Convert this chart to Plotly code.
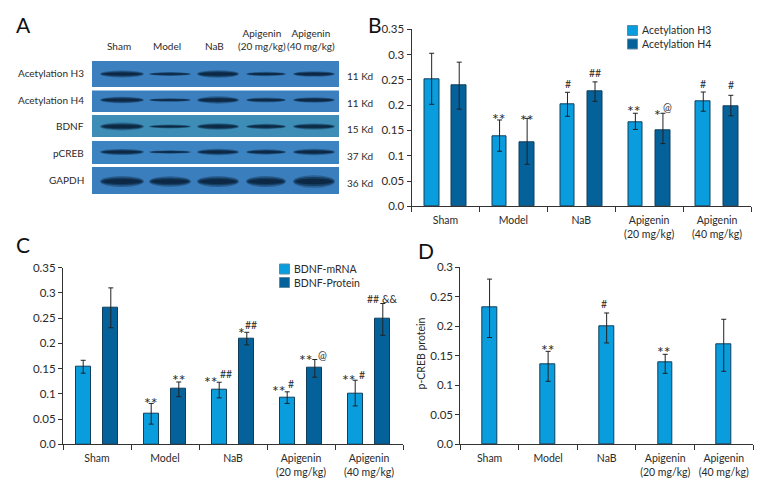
import plotly.graph_objects as go

# ---------- data ----------
GROUPS = ["Sham", "Model", "NaB", "Apigenin<br>(20 mg/kg)", "Apigenin<br>(40 mg/kg)"]
Y_TICKS = [0, 0.05, 0.1, 0.15, 0.2, 0.25, 0.3, 0.35]
Y_TEXT = ["0.0", "0.05", "0.1", "0.15", "0.2", "0.25", "0.3", "0.35"]

H3 = [0.252, 0.138, 0.201, 0.166, 0.207]
H3_UP = [0.3026, 0.1707, 0.2254, 0.184, 0.226]
H3_LO = [0.2017, 0.1088, 0.178, 0.152, 0.188]
H4 = [0.240, 0.126, 0.227, 0.151, 0.198]
H4_UP = [0.285, 0.174, 0.246, 0.184, 0.2195]
H4_LO = [0.192, 0.083, 0.2076, 0.124, 0.179]

MRNA = [0.154, 0.060, 0.109, 0.093, 0.100]
MRNA_UP = [0.1665, 0.081, 0.123, 0.104, 0.127]
MRNA_LO = [0.141, 0.040, 0.092, 0.081, 0.076]
PROT = [0.270, 0.110, 0.209, 0.152, 0.248]
PROT_UP = [0.310, 0.1235, 0.222, 0.168, 0.279]
PROT_LO = [0.231, 0.0945, 0.197, 0.133, 0.216]

CREB = [0.232, 0.1356, 0.1994, 0.1384, 0.1695]
CREB_UP = [0.280, 0.1576, 0.2226, 0.1525, 0.2119]
CREB_LO = [0.181, 0.1068, 0.1718, 0.1203, 0.1237]

# significance marks: (category position, value, text)
MARKS_B = [(0.79, 0.179, "**"), (1.20, 0.177, "**"),
           (1.80, 0.241, "#"), (2.20, 0.264, "##"),
           (2.78, 0.195, "**"), (3.13, 0.188, "*"), (3.27, 0.197, "@"),
           (3.80, 0.242, "#"), (4.20, 0.240, "#")]
MARKS_C = [(0.79, 0.088, "**"), (1.21, 0.135, "**"),
           (1.68, 0.130, "**"), (1.90, 0.139, "##"),
           (2.12, 0.228, "*"), (2.26, 0.236, "##"),
           (2.68, 0.113, "**"), (2.86, 0.120, "#"),
           (3.08, 0.175, "**"), (3.31, 0.177, "@"),
           (3.71, 0.134, "**"), (3.90, 0.137, "#"),
           (4.06, 0.288, "##"), (4.30, 0.288, "&&")]
MARKS_D = [(0.99, 0.166, "**"), (1.95, 0.237, "#"), (2.98, 0.162, "**")]

BLOT_ROWS = ["Acetylation H3", "Acetylation H4", "BDNF", "pCREB", "GAPDH"]
BLOT_KD = ["11 Kd", "11 Kd", "15 Kd", "37 Kd", "36 Kd"]
BLOT_LANES = ["Sham", "Model", "NaB", "Apigenin<br>(20 mg/kg)", "Apigenin<br>(40 mg/kg)"]
# band strength read by eye per row / lane (relative thickness)
BAND_STRENGTH = [[0.62, 0.35, 0.68, 0.40, 0.52],
                 [0.60, 0.32, 0.66, 0.45, 0.50],
                 [0.72, 0.35, 0.60, 0.48, 0.55],
                 [0.55, 0.30, 0.58, 0.48, 0.58],
                 [1.00, 0.95, 1.00, 1.00, 1.15]]

# ---------- styling / layout constants ----------
# the page keeps the default 8 px body margin: the figure fills what is left of the window
PAGE = 8
W, H = 780 - PAGE, 504 - 2 * PAGE
FONT = "Lato"
FS = 10
TXT = "#2a2a2a"
LIGHT, DARK = "#0a9ddd", "#04619a"
EDGE = "#103f5c"

def px(x): return (x - PAGE) / W
def py(y): return 1 - (y - PAGE) / H
def hdom(a, b): return [px(a), px(b)]
def vdom(top, bot): return [py(bot), py(top)]

fig = go.Figure()

def add_bar(name, vals, up, lo, color, xa, ya, width, offset):
    fig.add_trace(go.Bar(
        name=name, x=GROUPS, y=vals, xaxis=xa, yaxis=ya, showlegend=False,
        marker=dict(color=color, line=dict(color=EDGE, width=1)),
        error_y=dict(type="data", symmetric=False,
                     array=[u - v for u, v in zip(up, vals)],
                     arrayminus=[v - l for l, v in zip(lo, vals)],
                     color="#222222", thickness=1, width=2.5),
        width=width, offset=offset))

W2, GAP2 = 0.216, 0.203
add_bar("Acetylation H3", H3, H3_UP, H3_LO, LIGHT, "x", "y", W2, -GAP2 - W2 / 2)
add_bar("Acetylation H4", H4, H4_UP, H4_LO, DARK, "x", "y", W2, GAP2 - W2 / 2)
add_bar("BDNF-mRNA", MRNA, MRNA_UP, MRNA_LO, LIGHT, "x2", "y2", W2, -GAP2 - W2 / 2)
add_bar("BDNF-Protein", PROT, PROT_UP, PROT_LO, DARK, "x2", "y2", W2, GAP2 - W2 / 2)
add_bar("p-CREB protein", CREB, CREB_UP, CREB_LO, LIGHT, "x3", "y3", 0.25, -0.125)

def xaxis(dom, ya):
    return dict(domain=dom, anchor=ya, type="category", categoryorder="array", categoryarray=GROUPS,
                tickson="boundaries", ticks="outside", ticklen=5, tickwidth=1, tickcolor="#333",
                showline=True, linecolor="#333", linewidth=1, showgrid=False, zeroline=False,
                automargin=False, ticklabelstandoff=4,
                tickfont=dict(family=FONT, size=FS + 0.5, color=TXT), tickangle=0)

def yaxis(dom, top, xa):
    n = Y_TICKS.index(top) + 1
    return dict(domain=dom, range=[0, top], tickvals=Y_TICKS[:n], ticktext=Y_TEXT[:n], anchor=xa,
                ticks="outside", ticklen=4, tickwidth=1, tickcolor="#333",
                showline=True, linecolor="#333", linewidth=1, showgrid=False, zeroline=False,
                automargin=False, tickfont=dict(family=FONT, size=FS + 1.5, color=TXT))

shapes, notes = [], []

def note(x, y, text, size=FS, xanchor="center", yanchor="middle", xref="paper", yref="paper",
         color=TXT, **extra):
    notes.append(dict(x=x, y=y, text=text, xref=xref, yref=yref, xanchor=xanchor, yanchor=yanchor,
                      showarrow=False, align="center",
                      font=dict(family=FONT, size=size, color=color), **extra))

for marks, xr, yr in [(MARKS_B, "x", "y"), (MARKS_C, "x2", "y2"), (MARKS_D, "x3", "y3")]:
    for xv, yv, t in marks:
        big = "*" in t
        note(xv, yv, t, size=16 if big else 10.5, xref=xr, yref=yr, yshift=-3 if big else 0)

# legends
def legend(x0, rows):
    for (label, col, ytop) in rows:
        shapes.append(dict(type="rect", xref="paper", yref="paper", x0=px(x0), x1=px(x0 + 10),
                           y0=py(ytop + 10), y1=py(ytop), fillcolor=col,
                           line=dict(color="#5a8aa5", width=1)))
        note(px(x0 + 12.5), py(ytop + 5), label, xanchor="left", size=FS + 0.5)

legend(627.5, [("Acetylation H3", LIGHT, 25.5), ("Acetylation H4", DARK, 39)])
legend(279.5, [("BDNF-mRNA", LIGHT, 264), ("BDNF-Protein", DARK, 277.5)])

# panel letters
for letter, x, y in [("A", 23, 24), ("B", 375, 24), ("C", 23, 244), ("D", 426, 250)]:
    note(px(x), py(y), letter, size=21, color="#111")

# y title of panel D
note(px(420.5), py(354), "p-CREB protein", textangle=-90, size=FS + 0.5)

# ---------- panel A (blot) ----------
ROW_TOP = [61, 90.5, 115, 141, 167]
ROW_BOT = [87, 112, 137, 164, 194]
ROW_MID = [74, 100, 126.5, 152, 181.5]
ROW_BG = ["#3c80c0", "#3b7fbf", "#3d8db6", "#3c83c2", "#3b7ebe"]
LANE_PX = [122, 170, 218, 266, 314]
LANE_W = [22, 21, 21, 20, 21]
LABEL_MID = [73, 100, 126, 153, 180]
KD_MID = [76, 103, 129, 156, 183]
HEAD_X = [118.7, 167, 214.7, 261.5, 311]
HEAD_BOTTOM = 54

for r, row in enumerate(BLOT_ROWS):
    shapes.append(dict(type="rect", xref="paper", yref="paper", x0=px(92), x1=px(339),
                       y0=py(ROW_BOT[r]), y1=py(ROW_TOP[r]), fillcolor=ROW_BG[r], line=dict(width=0), layer="below"))
    note(px(86), py(LABEL_MID[r]), row, xanchor="right")
    note(px(345), py(KD_MID[r]), BLOT_KD[r], xanchor="left")
    for l in range(5):
        s = BAND_STRENGTH[r][l]
        for wf, hf, op in [(1.0, 1.0, 0.35), (0.96, 0.72, 0.55), (0.88, 0.45, 0.85)]:
            hw, hh = LANE_W[l] * wf, 5.5 * s * hf
            shapes.append(dict(type="circle", xref="paper", yref="paper",
                               x0=px(LANE_PX[l] - hw), x1=px(LANE_PX[l] + hw),
                               y0=py(ROW_MID[r] + hh), y1=py(ROW_MID[r] - hh),
                               fillcolor="#0a2440", opacity=op, line=dict(width=0)))

for l, lane in enumerate(BLOT_LANES):
    note(px(HEAD_X[l]), py(HEAD_BOTTOM), lane, yanchor="bottom")

fig.update_layout(
    width=W, height=H, paper_bgcolor="white", plot_bgcolor="white",
    margin=dict(l=0, r=0, t=0, b=0, autoexpand=False), barmode="overlay", showlegend=False,
    bargap=0, font=dict(family=FONT, size=FS, color=TXT),
    xaxis=xaxis(hdom(411.5, 751), "y"), yaxis=yaxis(vdom(29.3, 206.3), 0.35, "x"),
    xaxis2=xaxis(hdom(63, 403), "y2"), yaxis2=yaxis(vdom(267.7, 444.3), 0.35, "x2"),
    xaxis3=xaxis(hdom(460.3, 753), "y3"), yaxis3=yaxis(vdom(267.3, 444.3), 0.3, "x3"),
    shapes=shapes, annotations=notes,
)

fig.write_html("out.html")
